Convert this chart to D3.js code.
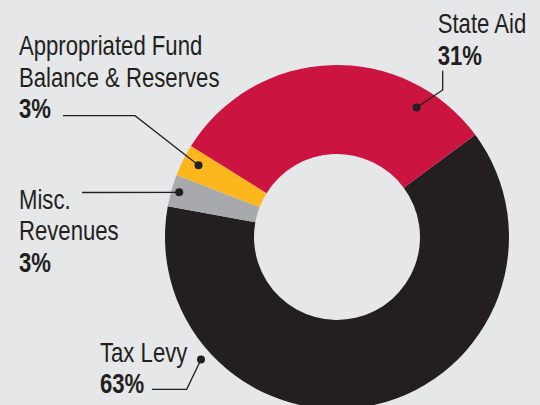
<!DOCTYPE html>
<head>
    <meta charset="utf-8">
    <script src="https://d3js.org/d3.v7.min.js"></script>
    <style type="text/css">
        body { margin: 0; background: #e6e7e8; }
        .lbl text {
            font-family: "Liberation Sans", Arial, sans-serif;
            font-size: 27px;
            fill: #231f20;
        }
        .lbl text.pct { font-weight: bold; }
        .leader { fill: none; stroke: #231f20; stroke-width: 1.3; }
    </style>
</head>
<body>

<script type="text/javascript">
    // data
    var categories = ["Tax Levy", "Misc. Revenues", "Appropriated Fund Balance & Reserves", "State Aid"],
        shares = [63, 3, 3, 31],
        pctLabels = ["63%", "3%", "3%", "31%"],
        labelLines = [["Tax Levy"], ["Misc.", "Revenues"], ["Appropriated Fund", "Balance & Reserves"], ["State Aid"]],
        colors = ["#231f20", "#a7a9ac", "#fdb71c", "#cc1440"];
</script>

<script type="text/javascript">
    var w = 540, h = 405,
        cx = 337, cy = 237,
        rOuter = 172, rInner = 83,
        lineH = 31.7,
        squeeze = 0.82; // condensed look

    // where each label sits, and the dot/elbow of its leader
    var notes = [
        {x: 100, y: 361.7, dotA: 228, dotR: 183, path: [[152, 389.3], [186.7, 389.3]]},
        {x: 19, y: 208.5, dotA: 285.8, dotR: 164, path: [[82, 192.5]]},
        {x: 19, y: 55, dotA: 297.4, dotR: 156, path: [[63, 115.7], [135, 115.7]]},
        {x: 437.7, y: 33.3, dotA: 31.6, dotR: 152, path: [[442.7, 70.7], [442.7, 90]]}
    ];

    var svg = d3.select("body").append("svg")
        .attr("width", w)
        .attr("height", h);

    svg.append("rect").attr("width", w).attr("height", h).attr("fill", "#e6e7e8");

    var a0 = 53.5 * Math.PI / 180;
    var pie = d3.pie().sort(null).startAngle(a0).endAngle(a0 + 2 * Math.PI);
    var arc = d3.arc().innerRadius(rInner).outerRadius(rOuter);

    var g = svg.append("g").attr("transform", "translate(" + cx + "," + cy + ")");

    g.selectAll("path").data(pie(shares)).enter().append("path")
        .attr("d", arc)
        .attr("fill", function(d, i) { return colors[i]; });

    function polar(a, r) {
        var t = a * Math.PI / 180;
        return [cx + r * Math.sin(t), cy - r * Math.cos(t)];
    }

    var lbl = svg.append("g").attr("class", "lbl");

    function put(x, y, t, cls) {
        lbl.append("text")
            .attr("class", cls || null)
            .attr("transform", "translate(" + x + "," + y + ") scale(" + squeeze + ",1)")
            .text(t);
    }

    categories.forEach(function(c, i) {
        var n = notes[i];
        var lines = labelLines[i];
        lines.forEach(function(t, j) {
            put(n.x, n.y + j * lineH, t);
        });
        put(n.x, n.y + lines.length * lineH, pctLabels[i], "pct");

        var dot = polar(n.dotA, n.dotR);
        var pts = n.path.concat([dot]);
        svg.append("path").attr("class", "leader").attr("d", d3.line()(pts));
        svg.append("circle").attr("cx", dot[0]).attr("cy", dot[1]).attr("r", 4).attr("fill", "#231f20");
    });
</script>
</body>
</html>
